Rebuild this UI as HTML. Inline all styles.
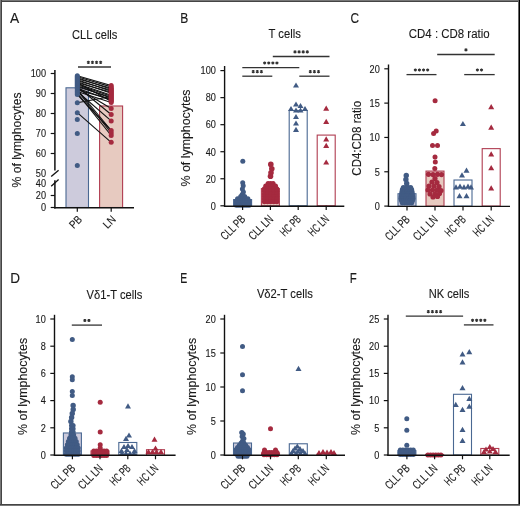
<!DOCTYPE html>
<html><head><meta charset="utf-8"><style>
html,body{margin:0;padding:0;background:#fff;width:520px;height:506px;overflow:hidden}
svg{display:block;will-change:transform}
text{font-family:"Liberation Sans", sans-serif;stroke:#1a1a1a;stroke-width:0.12px}
</style></head><body>
<svg width="520" height="506" viewBox="0 0 520 506">
<rect x="0" y="0" width="520" height="506" fill="#fff"/>
<text x="10.00" y="23.30" font-size="14.5" textLength="9.2" lengthAdjust="spacingAndGlyphs" stroke-width="0" fill="#1a1a1a">A</text>
<text x="72.00" y="38.90" font-size="12.5" textLength="45.4" lengthAdjust="spacingAndGlyphs" stroke-width="0.15" fill="#1a1a1a">CLL cells</text>
<text x="21.20" y="140.00" font-size="12" text-anchor="middle" textLength="95" lengthAdjust="spacingAndGlyphs" transform="rotate(-90 21.20 140.00)" fill="#1a1a1a">% of lymphocytes</text>
<rect x="66.00" y="87.80" width="22.50" height="119.70" fill="#cdcbdc" stroke="#4a6892" stroke-width="1.1"/>
<rect x="99.60" y="106.00" width="23.00" height="101.50" fill="#e7cac0" stroke="#b03c50" stroke-width="1.1"/>
<line x1="54.90" y1="70.00" x2="54.90" y2="170.60" stroke="#111" stroke-width="1.5"/>
<line x1="54.90" y1="180.20" x2="54.90" y2="208.60" stroke="#111" stroke-width="1.5"/>
<line x1="51.20" y1="176.60" x2="58.60" y2="170.20" stroke="#111" stroke-width="1.3"/>
<line x1="51.20" y1="186.20" x2="58.60" y2="179.60" stroke="#111" stroke-width="1.3"/>
<line x1="50.70" y1="73.50" x2="54.90" y2="73.50" stroke="#111" stroke-width="1.2"/>
<text x="46.00" y="77.30" font-size="10.6" text-anchor="end" textLength="15.299999999999999" lengthAdjust="spacingAndGlyphs" stroke-width="0.1" fill="#1a1a1a">100</text>
<line x1="50.70" y1="93.50" x2="54.90" y2="93.50" stroke="#111" stroke-width="1.2"/>
<text x="46.00" y="97.30" font-size="10.6" text-anchor="end" textLength="10.2" lengthAdjust="spacingAndGlyphs" stroke-width="0.1" fill="#1a1a1a">90</text>
<line x1="50.70" y1="113.50" x2="54.90" y2="113.50" stroke="#111" stroke-width="1.2"/>
<text x="46.00" y="117.30" font-size="10.6" text-anchor="end" textLength="10.2" lengthAdjust="spacingAndGlyphs" stroke-width="0.1" fill="#1a1a1a">80</text>
<line x1="50.70" y1="133.50" x2="54.90" y2="133.50" stroke="#111" stroke-width="1.2"/>
<text x="46.00" y="137.30" font-size="10.6" text-anchor="end" textLength="10.2" lengthAdjust="spacingAndGlyphs" stroke-width="0.1" fill="#1a1a1a">70</text>
<line x1="50.70" y1="153.50" x2="54.90" y2="153.50" stroke="#111" stroke-width="1.2"/>
<text x="46.00" y="157.30" font-size="10.6" text-anchor="end" textLength="10.2" lengthAdjust="spacingAndGlyphs" stroke-width="0.1" fill="#1a1a1a">60</text>
<text x="46.00" y="177.10" font-size="10.6" text-anchor="end" textLength="10.2" lengthAdjust="spacingAndGlyphs" stroke-width="0.1" fill="#1a1a1a">50</text>
<text x="46.00" y="187.10" font-size="10.6" text-anchor="end" textLength="10.2" lengthAdjust="spacingAndGlyphs" stroke-width="0.1" fill="#1a1a1a">40</text>
<line x1="50.70" y1="195.50" x2="54.90" y2="195.50" stroke="#111" stroke-width="1.2"/>
<text x="46.00" y="199.30" font-size="10.6" text-anchor="end" textLength="10.2" lengthAdjust="spacingAndGlyphs" stroke-width="0.1" fill="#1a1a1a">20</text>
<line x1="50.70" y1="207.50" x2="54.90" y2="207.50" stroke="#111" stroke-width="1.2"/>
<text x="46.00" y="211.30" font-size="10.6" text-anchor="end" textLength="5.1" lengthAdjust="spacingAndGlyphs" stroke-width="0.1" fill="#1a1a1a">0</text>
<line x1="54.15" y1="207.80" x2="134.00" y2="207.80" stroke="#111" stroke-width="1.5"/>
<line x1="77.30" y1="207.50" x2="77.30" y2="211.80" stroke="#111" stroke-width="1.2"/>
<text x="82.70" y="220.10" font-size="11.3" text-anchor="end" textLength="12.8" lengthAdjust="spacingAndGlyphs" transform="rotate(-45 82.70 220.10)" stroke-width="0.15" fill="#1a1a1a">PB</text>
<line x1="111.20" y1="207.50" x2="111.20" y2="211.80" stroke="#111" stroke-width="1.2"/>
<text x="116.60" y="220.10" font-size="11.3" text-anchor="end" textLength="12.8" lengthAdjust="spacingAndGlyphs" transform="rotate(-45 116.60 220.10)" stroke-width="0.15" fill="#1a1a1a">LN</text>
<line x1="78.00" y1="67.00" x2="111.00" y2="67.00" stroke="#333" stroke-width="1.3"/>
<path d="M88.35 60.80L88.35 64.00M86.96 61.60L89.74 63.20M89.74 61.60L86.96 63.20" stroke="#333" stroke-width="1.1"/>
<path d="M92.45 60.80L92.45 64.00M91.06 61.60L93.84 63.20M93.84 61.60L91.06 63.20" stroke="#333" stroke-width="1.1"/>
<path d="M96.55 60.80L96.55 64.00M95.16 61.60L97.94 63.20M97.94 61.60L95.16 63.20" stroke="#333" stroke-width="1.1"/>
<path d="M100.65 60.80L100.65 64.00M99.26 61.60L102.04 63.20M102.04 61.60L99.26 63.20" stroke="#333" stroke-width="1.1"/>
<line x1="77.30" y1="75.70" x2="111.20" y2="85.50" stroke="#111" stroke-width="1.1"/>
<line x1="77.30" y1="76.70" x2="111.20" y2="86.90" stroke="#111" stroke-width="1.1"/>
<line x1="77.30" y1="77.70" x2="111.20" y2="89.30" stroke="#111" stroke-width="1.1"/>
<line x1="77.30" y1="78.70" x2="111.20" y2="88.30" stroke="#111" stroke-width="1.1"/>
<line x1="77.30" y1="79.70" x2="111.20" y2="91.30" stroke="#111" stroke-width="1.1"/>
<line x1="77.30" y1="80.70" x2="111.20" y2="90.30" stroke="#111" stroke-width="1.1"/>
<line x1="77.30" y1="81.70" x2="111.20" y2="93.30" stroke="#111" stroke-width="1.1"/>
<line x1="77.30" y1="82.70" x2="111.20" y2="92.30" stroke="#111" stroke-width="1.1"/>
<line x1="77.30" y1="83.70" x2="111.20" y2="95.30" stroke="#111" stroke-width="1.1"/>
<line x1="77.30" y1="84.70" x2="111.20" y2="96.30" stroke="#111" stroke-width="1.1"/>
<line x1="77.30" y1="85.70" x2="111.20" y2="98.30" stroke="#111" stroke-width="1.1"/>
<line x1="77.30" y1="86.70" x2="111.20" y2="97.30" stroke="#111" stroke-width="1.1"/>
<line x1="77.30" y1="88.30" x2="111.20" y2="100.30" stroke="#111" stroke-width="1.1"/>
<line x1="77.30" y1="89.90" x2="111.20" y2="99.30" stroke="#111" stroke-width="1.1"/>
<line x1="77.30" y1="82.70" x2="111.20" y2="101.30" stroke="#111" stroke-width="1.1"/>
<line x1="77.30" y1="91.50" x2="111.20" y2="102.50" stroke="#111" stroke-width="1.1"/>
<line x1="77.30" y1="88.30" x2="111.20" y2="108.50" stroke="#111" stroke-width="1.1"/>
<line x1="77.30" y1="86.70" x2="111.20" y2="114.50" stroke="#111" stroke-width="1.1"/>
<line x1="77.30" y1="91.50" x2="111.20" y2="120.90" stroke="#111" stroke-width="1.1"/>
<line x1="77.30" y1="89.50" x2="111.20" y2="130.50" stroke="#111" stroke-width="1.1"/>
<line x1="77.30" y1="90.50" x2="111.20" y2="133.00" stroke="#111" stroke-width="1.1"/>
<line x1="77.30" y1="93.10" x2="111.20" y2="135.50" stroke="#111" stroke-width="1.1"/>
<line x1="77.30" y1="94.50" x2="111.20" y2="130.50" stroke="#111" stroke-width="1.1"/>
<line x1="77.30" y1="102.70" x2="111.20" y2="96.50" stroke="#111" stroke-width="1.1"/>
<line x1="77.30" y1="112.70" x2="111.20" y2="142.30" stroke="#111" stroke-width="1.1"/>
<circle cx="77.30" cy="75.70" r="2.5" fill="#415b84"/>
<circle cx="77.30" cy="76.70" r="2.5" fill="#415b84"/>
<circle cx="77.30" cy="77.70" r="2.5" fill="#415b84"/>
<circle cx="77.30" cy="78.70" r="2.5" fill="#415b84"/>
<circle cx="77.30" cy="79.70" r="2.5" fill="#415b84"/>
<circle cx="77.30" cy="80.70" r="2.5" fill="#415b84"/>
<circle cx="77.30" cy="81.70" r="2.5" fill="#415b84"/>
<circle cx="77.30" cy="82.70" r="2.5" fill="#415b84"/>
<circle cx="77.30" cy="83.70" r="2.5" fill="#415b84"/>
<circle cx="77.30" cy="84.70" r="2.5" fill="#415b84"/>
<circle cx="77.30" cy="85.70" r="2.5" fill="#415b84"/>
<circle cx="77.30" cy="86.70" r="2.5" fill="#415b84"/>
<circle cx="77.30" cy="88.30" r="2.5" fill="#415b84"/>
<circle cx="77.30" cy="89.90" r="2.5" fill="#415b84"/>
<circle cx="77.30" cy="91.50" r="2.5" fill="#415b84"/>
<circle cx="77.30" cy="93.10" r="2.5" fill="#415b84"/>
<circle cx="77.30" cy="94.50" r="2.5" fill="#415b84"/>
<circle cx="77.30" cy="102.70" r="2.5" fill="#415b84"/>
<circle cx="77.30" cy="112.70" r="2.5" fill="#415b84"/>
<circle cx="77.30" cy="119.50" r="2.5" fill="#415b84"/>
<circle cx="77.30" cy="133.50" r="2.5" fill="#415b84"/>
<circle cx="77.30" cy="165.50" r="2.5" fill="#415b84"/>
<circle cx="111.20" cy="85.50" r="2.5" fill="#a52a3f"/>
<circle cx="111.20" cy="86.90" r="2.5" fill="#a52a3f"/>
<circle cx="111.20" cy="88.30" r="2.5" fill="#a52a3f"/>
<circle cx="111.20" cy="89.30" r="2.5" fill="#a52a3f"/>
<circle cx="111.20" cy="90.30" r="2.5" fill="#a52a3f"/>
<circle cx="111.20" cy="91.30" r="2.5" fill="#a52a3f"/>
<circle cx="111.20" cy="92.30" r="2.5" fill="#a52a3f"/>
<circle cx="111.20" cy="93.30" r="2.5" fill="#a52a3f"/>
<circle cx="111.20" cy="94.30" r="2.5" fill="#a52a3f"/>
<circle cx="111.20" cy="95.30" r="2.5" fill="#a52a3f"/>
<circle cx="111.20" cy="96.30" r="2.5" fill="#a52a3f"/>
<circle cx="111.20" cy="97.30" r="2.5" fill="#a52a3f"/>
<circle cx="111.20" cy="98.30" r="2.5" fill="#a52a3f"/>
<circle cx="111.20" cy="99.30" r="2.5" fill="#a52a3f"/>
<circle cx="111.20" cy="100.30" r="2.5" fill="#a52a3f"/>
<circle cx="111.20" cy="101.30" r="2.5" fill="#a52a3f"/>
<circle cx="111.20" cy="102.50" r="2.5" fill="#a52a3f"/>
<circle cx="111.20" cy="108.50" r="2.5" fill="#a52a3f"/>
<circle cx="111.20" cy="114.50" r="2.5" fill="#a52a3f"/>
<circle cx="111.20" cy="120.90" r="2.5" fill="#a52a3f"/>
<circle cx="111.20" cy="130.50" r="2.5" fill="#a52a3f"/>
<circle cx="111.20" cy="133.00" r="2.5" fill="#a52a3f"/>
<circle cx="111.20" cy="135.50" r="2.5" fill="#a52a3f"/>
<circle cx="111.20" cy="142.30" r="2.5" fill="#a52a3f"/>
<text x="180.20" y="23.10" font-size="14.5" textLength="8.0" lengthAdjust="spacingAndGlyphs" stroke-width="0" fill="#1a1a1a">B</text>
<text x="268.50" y="38.10" font-size="12.5" textLength="32.3" lengthAdjust="spacingAndGlyphs" stroke-width="0.15" fill="#1a1a1a">T cells</text>
<text x="189.50" y="138.00" font-size="12" text-anchor="middle" textLength="97" lengthAdjust="spacingAndGlyphs" transform="rotate(-90 189.50 138.00)" fill="#1a1a1a">% of lymphocytes</text>
<rect x="233.60" y="199.58" width="18.00" height="6.22" fill="#cdcbdc" stroke="#4a6892" stroke-width="1.1"/>
<rect x="261.40" y="188.63" width="18.00" height="17.17" fill="#e7cac0" stroke="#b03c50" stroke-width="1.1"/>
<rect x="289.20" y="110.48" width="18.00" height="95.32" fill="#fff" stroke="#4a6892" stroke-width="1.1"/>
<rect x="317.20" y="135.09" width="18.00" height="70.71" fill="#fff" stroke="#b03c50" stroke-width="1.1"/>
<circle cx="242.80" cy="161.20" r="2.5" fill="#415b84"/>
<circle cx="242.70" cy="182.80" r="2.5" fill="#415b84"/>
<circle cx="243.20" cy="185.80" r="2.5" fill="#415b84"/>
<circle cx="242.40" cy="189.00" r="2.5" fill="#415b84"/>
<circle cx="243.40" cy="192.00" r="2.5" fill="#415b84"/>
<circle cx="242.20" cy="194.50" r="2.5" fill="#415b84"/>
<circle cx="240.70" cy="196.50" r="2.5" fill="#415b84"/>
<circle cx="242.70" cy="196.50" r="2.5" fill="#415b84"/>
<circle cx="244.70" cy="196.50" r="2.5" fill="#415b84"/>
<circle cx="237.55" cy="198.70" r="2.5" fill="#415b84"/>
<circle cx="240.12" cy="198.70" r="2.5" fill="#415b84"/>
<circle cx="242.70" cy="198.70" r="2.5" fill="#415b84"/>
<circle cx="245.28" cy="198.70" r="2.5" fill="#415b84"/>
<circle cx="247.85" cy="198.70" r="2.5" fill="#415b84"/>
<circle cx="236.40" cy="200.90" r="2.5" fill="#415b84"/>
<circle cx="238.92" cy="200.90" r="2.5" fill="#415b84"/>
<circle cx="241.44" cy="200.90" r="2.5" fill="#415b84"/>
<circle cx="243.96" cy="200.90" r="2.5" fill="#415b84"/>
<circle cx="246.48" cy="200.90" r="2.5" fill="#415b84"/>
<circle cx="249.00" cy="200.90" r="2.5" fill="#415b84"/>
<circle cx="236.40" cy="203.10" r="2.5" fill="#415b84"/>
<circle cx="238.92" cy="203.10" r="2.5" fill="#415b84"/>
<circle cx="241.44" cy="203.10" r="2.5" fill="#415b84"/>
<circle cx="243.96" cy="203.10" r="2.5" fill="#415b84"/>
<circle cx="246.48" cy="203.10" r="2.5" fill="#415b84"/>
<circle cx="249.00" cy="203.10" r="2.5" fill="#415b84"/>
<circle cx="236.40" cy="205.30" r="2.5" fill="#415b84"/>
<circle cx="238.92" cy="205.30" r="2.5" fill="#415b84"/>
<circle cx="241.44" cy="205.30" r="2.5" fill="#415b84"/>
<circle cx="243.96" cy="205.30" r="2.5" fill="#415b84"/>
<circle cx="246.48" cy="205.30" r="2.5" fill="#415b84"/>
<circle cx="249.00" cy="205.30" r="2.5" fill="#415b84"/>
<circle cx="270.80" cy="164.40" r="2.8" fill="#a52a3f"/>
<circle cx="271.80" cy="168.80" r="2.8" fill="#a52a3f"/>
<circle cx="271.00" cy="172.80" r="2.8" fill="#a52a3f"/>
<circle cx="270.50" cy="176.20" r="2.8" fill="#a52a3f"/>
<circle cx="268.10" cy="183.50" r="2.5" fill="#a52a3f"/>
<circle cx="270.60" cy="183.50" r="2.5" fill="#a52a3f"/>
<circle cx="273.10" cy="183.50" r="2.5" fill="#a52a3f"/>
<circle cx="265.70" cy="186.10" r="2.5" fill="#a52a3f"/>
<circle cx="268.15" cy="186.10" r="2.5" fill="#a52a3f"/>
<circle cx="270.60" cy="186.10" r="2.5" fill="#a52a3f"/>
<circle cx="273.05" cy="186.10" r="2.5" fill="#a52a3f"/>
<circle cx="275.51" cy="186.10" r="2.5" fill="#a52a3f"/>
<circle cx="264.40" cy="188.70" r="2.5" fill="#a52a3f"/>
<circle cx="267.50" cy="188.70" r="2.5" fill="#a52a3f"/>
<circle cx="270.60" cy="188.70" r="2.5" fill="#a52a3f"/>
<circle cx="273.70" cy="188.70" r="2.5" fill="#a52a3f"/>
<circle cx="276.80" cy="188.70" r="2.5" fill="#a52a3f"/>
<circle cx="264.40" cy="191.30" r="2.5" fill="#a52a3f"/>
<circle cx="267.50" cy="191.30" r="2.5" fill="#a52a3f"/>
<circle cx="270.60" cy="191.30" r="2.5" fill="#a52a3f"/>
<circle cx="273.70" cy="191.30" r="2.5" fill="#a52a3f"/>
<circle cx="276.80" cy="191.30" r="2.5" fill="#a52a3f"/>
<circle cx="264.40" cy="193.90" r="2.5" fill="#a52a3f"/>
<circle cx="267.50" cy="193.90" r="2.5" fill="#a52a3f"/>
<circle cx="270.60" cy="193.90" r="2.5" fill="#a52a3f"/>
<circle cx="273.70" cy="193.90" r="2.5" fill="#a52a3f"/>
<circle cx="276.80" cy="193.90" r="2.5" fill="#a52a3f"/>
<circle cx="264.40" cy="196.50" r="2.5" fill="#a52a3f"/>
<circle cx="267.50" cy="196.50" r="2.5" fill="#a52a3f"/>
<circle cx="270.60" cy="196.50" r="2.5" fill="#a52a3f"/>
<circle cx="273.70" cy="196.50" r="2.5" fill="#a52a3f"/>
<circle cx="276.80" cy="196.50" r="2.5" fill="#a52a3f"/>
<circle cx="264.40" cy="199.10" r="2.5" fill="#a52a3f"/>
<circle cx="267.50" cy="199.10" r="2.5" fill="#a52a3f"/>
<circle cx="270.60" cy="199.10" r="2.5" fill="#a52a3f"/>
<circle cx="273.70" cy="199.10" r="2.5" fill="#a52a3f"/>
<circle cx="276.80" cy="199.10" r="2.5" fill="#a52a3f"/>
<circle cx="264.40" cy="201.70" r="2.5" fill="#a52a3f"/>
<circle cx="267.50" cy="201.70" r="2.5" fill="#a52a3f"/>
<circle cx="270.60" cy="201.70" r="2.5" fill="#a52a3f"/>
<circle cx="273.70" cy="201.70" r="2.5" fill="#a52a3f"/>
<circle cx="276.80" cy="201.70" r="2.5" fill="#a52a3f"/>
<path d="M293.00 87.61L299.00 87.61L296.00 82.39Z" fill="#415b84"/>
<path d="M293.00 106.61L299.00 106.61L296.00 101.39Z" fill="#415b84"/>
<path d="M297.50 108.11L303.50 108.11L300.50 102.89Z" fill="#415b84"/>
<path d="M302.00 111.11L308.00 111.11L305.00 105.89Z" fill="#415b84"/>
<path d="M288.00 111.11L294.00 111.11L291.00 105.89Z" fill="#415b84"/>
<path d="M293.00 112.61L299.00 112.61L296.00 107.39Z" fill="#415b84"/>
<path d="M297.50 112.61L303.50 112.61L300.50 107.39Z" fill="#415b84"/>
<path d="M293.00 119.11L299.00 119.11L296.00 113.89Z" fill="#415b84"/>
<path d="M293.00 125.61L299.00 125.61L296.00 120.39Z" fill="#415b84"/>
<path d="M293.00 131.91L299.00 131.91L296.00 126.69Z" fill="#415b84"/>
<path d="M323.20 110.66L329.20 110.66L326.20 105.44Z" fill="#a52a3f"/>
<path d="M323.20 123.91L329.20 123.91L326.20 118.69Z" fill="#a52a3f"/>
<path d="M323.20 141.49L329.20 141.49L326.20 136.27Z" fill="#a52a3f"/>
<path d="M323.20 147.98L329.20 147.98L326.20 142.76Z" fill="#a52a3f"/>
<path d="M323.20 164.61L329.20 164.61L326.20 159.39Z" fill="#a52a3f"/>
<line x1="224.60" y1="66.00" x2="224.60" y2="206.45" stroke="#111" stroke-width="1.4"/>
<line x1="220.40" y1="205.80" x2="224.60" y2="205.80" stroke="#111" stroke-width="1.2"/>
<text x="215.90" y="209.60" font-size="10.6" text-anchor="end" textLength="5.1" lengthAdjust="spacingAndGlyphs" stroke-width="0.1" fill="#1a1a1a">0</text>
<line x1="220.40" y1="178.76" x2="224.60" y2="178.76" stroke="#111" stroke-width="1.2"/>
<text x="215.90" y="182.56" font-size="10.6" text-anchor="end" textLength="10.2" lengthAdjust="spacingAndGlyphs" stroke-width="0.1" fill="#1a1a1a">20</text>
<line x1="220.40" y1="151.72" x2="224.60" y2="151.72" stroke="#111" stroke-width="1.2"/>
<text x="215.90" y="155.52" font-size="10.6" text-anchor="end" textLength="10.2" lengthAdjust="spacingAndGlyphs" stroke-width="0.1" fill="#1a1a1a">40</text>
<line x1="220.40" y1="124.68" x2="224.60" y2="124.68" stroke="#111" stroke-width="1.2"/>
<text x="215.90" y="128.48" font-size="10.6" text-anchor="end" textLength="10.2" lengthAdjust="spacingAndGlyphs" stroke-width="0.1" fill="#1a1a1a">60</text>
<line x1="220.40" y1="97.64" x2="224.60" y2="97.64" stroke="#111" stroke-width="1.2"/>
<text x="215.90" y="101.44" font-size="10.6" text-anchor="end" textLength="10.2" lengthAdjust="spacingAndGlyphs" stroke-width="0.1" fill="#1a1a1a">80</text>
<line x1="220.40" y1="70.60" x2="224.60" y2="70.60" stroke="#111" stroke-width="1.2"/>
<text x="215.90" y="74.40" font-size="10.6" text-anchor="end" textLength="15.299999999999999" lengthAdjust="spacingAndGlyphs" stroke-width="0.1" fill="#1a1a1a">100</text>
<line x1="223.90" y1="206.30" x2="344.30" y2="206.30" stroke="#111" stroke-width="1.4"/>
<line x1="242.60" y1="205.80" x2="242.60" y2="210.10" stroke="#111" stroke-width="1.2"/>
<text x="246.20" y="220.00" font-size="12" text-anchor="end" textLength="29.5" lengthAdjust="spacingAndGlyphs" transform="rotate(-45 246.20 220.00)" stroke-width="0.2" fill="#1a1a1a">CLL PB</text>
<line x1="270.40" y1="205.80" x2="270.40" y2="210.10" stroke="#111" stroke-width="1.2"/>
<text x="274.00" y="220.00" font-size="12" text-anchor="end" textLength="29.5" lengthAdjust="spacingAndGlyphs" transform="rotate(-45 274.00 220.00)" stroke-width="0.2" fill="#1a1a1a">CLL LN</text>
<line x1="298.20" y1="205.80" x2="298.20" y2="210.10" stroke="#111" stroke-width="1.2"/>
<text x="301.80" y="220.00" font-size="12" text-anchor="end" textLength="24" lengthAdjust="spacingAndGlyphs" transform="rotate(-45 301.80 220.00)" stroke-width="0.2" fill="#1a1a1a">HC PB</text>
<line x1="326.20" y1="205.80" x2="326.20" y2="210.10" stroke="#111" stroke-width="1.2"/>
<text x="329.80" y="220.00" font-size="12" text-anchor="end" textLength="24" lengthAdjust="spacingAndGlyphs" transform="rotate(-45 329.80 220.00)" stroke-width="0.2" fill="#1a1a1a">HC LN</text>
<line x1="272.80" y1="56.50" x2="329.50" y2="56.50" stroke="#333" stroke-width="1.3"/>
<path d="M295.00 50.30L295.00 53.50M293.61 51.10L296.39 52.70M296.39 51.10L293.61 52.70" stroke="#333" stroke-width="1.1"/>
<path d="M299.10 50.30L299.10 53.50M297.71 51.10L300.49 52.70M300.49 51.10L297.71 52.70" stroke="#333" stroke-width="1.1"/>
<path d="M303.20 50.30L303.20 53.50M301.81 51.10L304.59 52.70M304.59 51.10L301.81 52.70" stroke="#333" stroke-width="1.1"/>
<path d="M307.30 50.30L307.30 53.50M305.91 51.10L308.69 52.70M308.69 51.10L305.91 52.70" stroke="#333" stroke-width="1.1"/>
<line x1="242.30" y1="67.60" x2="299.30" y2="67.60" stroke="#333" stroke-width="1.3"/>
<path d="M264.65 61.40L264.65 64.60M263.26 62.20L266.04 63.80M266.04 62.20L263.26 63.80" stroke="#333" stroke-width="1.1"/>
<path d="M268.75 61.40L268.75 64.60M267.36 62.20L270.14 63.80M270.14 62.20L267.36 63.80" stroke="#333" stroke-width="1.1"/>
<path d="M272.85 61.40L272.85 64.60M271.46 62.20L274.24 63.80M274.24 62.20L271.46 63.80" stroke="#333" stroke-width="1.1"/>
<path d="M276.95 61.40L276.95 64.60M275.56 62.20L278.34 63.80M278.34 62.20L275.56 63.80" stroke="#333" stroke-width="1.1"/>
<line x1="242.30" y1="76.20" x2="272.30" y2="76.20" stroke="#333" stroke-width="1.3"/>
<path d="M253.20 70.00L253.20 73.20M251.81 70.80L254.59 72.40M254.59 70.80L251.81 72.40" stroke="#333" stroke-width="1.1"/>
<path d="M257.30 70.00L257.30 73.20M255.91 70.80L258.69 72.40M258.69 70.80L255.91 72.40" stroke="#333" stroke-width="1.1"/>
<path d="M261.40 70.00L261.40 73.20M260.01 70.80L262.79 72.40M262.79 70.80L260.01 72.40" stroke="#333" stroke-width="1.1"/>
<line x1="299.30" y1="76.20" x2="329.50" y2="76.20" stroke="#333" stroke-width="1.3"/>
<path d="M310.30 70.00L310.30 73.20M308.91 70.80L311.69 72.40M311.69 70.80L308.91 72.40" stroke="#333" stroke-width="1.1"/>
<path d="M314.40 70.00L314.40 73.20M313.01 70.80L315.79 72.40M315.79 70.80L313.01 72.40" stroke="#333" stroke-width="1.1"/>
<path d="M318.50 70.00L318.50 73.20M317.11 70.80L319.89 72.40M319.89 70.80L317.11 72.40" stroke="#333" stroke-width="1.1"/>
<text x="350.50" y="23.10" font-size="14.5" textLength="8.6" lengthAdjust="spacingAndGlyphs" stroke-width="0" fill="#1a1a1a">C</text>
<text x="408.80" y="38.20" font-size="12.5" textLength="80.8" lengthAdjust="spacingAndGlyphs" stroke-width="0.15" fill="#1a1a1a">CD4 : CD8 ratio</text>
<text x="360.70" y="138.30" font-size="12" text-anchor="middle" textLength="74.7" lengthAdjust="spacingAndGlyphs" transform="rotate(-90 360.70 138.30)" fill="#1a1a1a">CD4:CD8 ratio</text>
<rect x="398.00" y="193.74" width="18.00" height="12.36" fill="#cdcbdc" stroke="#4a6892" stroke-width="1.1"/>
<rect x="426.00" y="171.09" width="18.00" height="35.01" fill="#e7cac0" stroke="#b03c50" stroke-width="1.1"/>
<rect x="454.00" y="180.01" width="18.00" height="26.09" fill="#fff" stroke="#4a6892" stroke-width="1.1"/>
<rect x="482.20" y="148.64" width="18.00" height="57.46" fill="#fff" stroke="#b03c50" stroke-width="1.1"/>
<circle cx="406.26" cy="175.40" r="2.7" fill="#415b84"/>
<circle cx="405.89" cy="179.40" r="2.7" fill="#415b84"/>
<circle cx="406.71" cy="183.40" r="2.7" fill="#415b84"/>
<circle cx="403.31" cy="187.40" r="2.5" fill="#415b84"/>
<circle cx="405.77" cy="187.40" r="2.5" fill="#415b84"/>
<circle cx="408.23" cy="187.40" r="2.5" fill="#415b84"/>
<circle cx="410.69" cy="187.40" r="2.5" fill="#415b84"/>
<circle cx="402.37" cy="189.60" r="2.5" fill="#415b84"/>
<circle cx="404.69" cy="189.60" r="2.5" fill="#415b84"/>
<circle cx="407.00" cy="189.60" r="2.5" fill="#415b84"/>
<circle cx="409.31" cy="189.60" r="2.5" fill="#415b84"/>
<circle cx="411.63" cy="189.60" r="2.5" fill="#415b84"/>
<circle cx="401.91" cy="191.80" r="2.5" fill="#415b84"/>
<circle cx="404.46" cy="191.80" r="2.5" fill="#415b84"/>
<circle cx="407.00" cy="191.80" r="2.5" fill="#415b84"/>
<circle cx="409.54" cy="191.80" r="2.5" fill="#415b84"/>
<circle cx="412.09" cy="191.80" r="2.5" fill="#415b84"/>
<circle cx="401.56" cy="194.00" r="2.5" fill="#415b84"/>
<circle cx="403.74" cy="194.00" r="2.5" fill="#415b84"/>
<circle cx="405.91" cy="194.00" r="2.5" fill="#415b84"/>
<circle cx="408.09" cy="194.00" r="2.5" fill="#415b84"/>
<circle cx="410.26" cy="194.00" r="2.5" fill="#415b84"/>
<circle cx="412.44" cy="194.00" r="2.5" fill="#415b84"/>
<circle cx="401.22" cy="196.20" r="2.5" fill="#415b84"/>
<circle cx="403.53" cy="196.20" r="2.5" fill="#415b84"/>
<circle cx="405.84" cy="196.20" r="2.5" fill="#415b84"/>
<circle cx="408.16" cy="196.20" r="2.5" fill="#415b84"/>
<circle cx="410.47" cy="196.20" r="2.5" fill="#415b84"/>
<circle cx="412.78" cy="196.20" r="2.5" fill="#415b84"/>
<circle cx="400.89" cy="198.40" r="2.5" fill="#415b84"/>
<circle cx="403.33" cy="198.40" r="2.5" fill="#415b84"/>
<circle cx="405.78" cy="198.40" r="2.5" fill="#415b84"/>
<circle cx="408.22" cy="198.40" r="2.5" fill="#415b84"/>
<circle cx="410.67" cy="198.40" r="2.5" fill="#415b84"/>
<circle cx="413.11" cy="198.40" r="2.5" fill="#415b84"/>
<circle cx="401.40" cy="200.60" r="2.5" fill="#415b84"/>
<circle cx="403.64" cy="200.60" r="2.5" fill="#415b84"/>
<circle cx="405.88" cy="200.60" r="2.5" fill="#415b84"/>
<circle cx="408.12" cy="200.60" r="2.5" fill="#415b84"/>
<circle cx="410.36" cy="200.60" r="2.5" fill="#415b84"/>
<circle cx="412.60" cy="200.60" r="2.5" fill="#415b84"/>
<circle cx="402.24" cy="202.80" r="2.5" fill="#415b84"/>
<circle cx="404.62" cy="202.80" r="2.5" fill="#415b84"/>
<circle cx="407.00" cy="202.80" r="2.5" fill="#415b84"/>
<circle cx="409.38" cy="202.80" r="2.5" fill="#415b84"/>
<circle cx="411.76" cy="202.80" r="2.5" fill="#415b84"/>
<circle cx="435.10" cy="100.70" r="2.5" fill="#a52a3f"/>
<circle cx="433.60" cy="133.60" r="2.5" fill="#a52a3f"/>
<circle cx="436.20" cy="131.00" r="2.5" fill="#a52a3f"/>
<circle cx="432.50" cy="145.40" r="2.5" fill="#a52a3f"/>
<circle cx="437.50" cy="145.40" r="2.5" fill="#a52a3f"/>
<circle cx="435.00" cy="157.10" r="2.5" fill="#a52a3f"/>
<circle cx="435.30" cy="161.90" r="2.5" fill="#a52a3f"/>
<circle cx="434.80" cy="168.40" r="2.5" fill="#a52a3f"/>
<circle cx="428.50" cy="174.30" r="2.6" fill="#a52a3f"/>
<circle cx="433.00" cy="174.60" r="2.6" fill="#a52a3f"/>
<circle cx="437.50" cy="174.30" r="2.6" fill="#a52a3f"/>
<circle cx="441.50" cy="174.60" r="2.6" fill="#a52a3f"/>
<circle cx="435.00" cy="178.50" r="2.6" fill="#a52a3f"/>
<circle cx="432.00" cy="182.00" r="2.6" fill="#a52a3f"/>
<circle cx="437.00" cy="182.50" r="2.6" fill="#a52a3f"/>
<circle cx="429.00" cy="186.00" r="2.6" fill="#a52a3f"/>
<circle cx="434.00" cy="186.00" r="2.6" fill="#a52a3f"/>
<circle cx="439.00" cy="186.50" r="2.6" fill="#a52a3f"/>
<circle cx="428.00" cy="190.00" r="2.6" fill="#a52a3f"/>
<circle cx="432.50" cy="190.00" r="2.6" fill="#a52a3f"/>
<circle cx="437.00" cy="190.00" r="2.6" fill="#a52a3f"/>
<circle cx="441.00" cy="190.50" r="2.6" fill="#a52a3f"/>
<circle cx="430.00" cy="194.00" r="2.6" fill="#a52a3f"/>
<circle cx="435.00" cy="194.00" r="2.6" fill="#a52a3f"/>
<circle cx="439.50" cy="193.50" r="2.6" fill="#a52a3f"/>
<circle cx="433.00" cy="197.00" r="2.6" fill="#a52a3f"/>
<circle cx="437.50" cy="196.50" r="2.6" fill="#a52a3f"/>
<path d="M459.90 126.11L465.90 126.11L462.90 120.89Z" fill="#415b84"/>
<path d="M463.50 172.81L469.50 172.81L466.50 167.59Z" fill="#415b84"/>
<path d="M459.00 177.51L465.00 177.51L462.00 172.29Z" fill="#415b84"/>
<path d="M453.00 189.41L459.00 189.41L456.00 184.19Z" fill="#415b84"/>
<path d="M457.00 188.81L463.00 188.81L460.00 183.59Z" fill="#415b84"/>
<path d="M461.00 189.41L467.00 189.41L464.00 184.19Z" fill="#415b84"/>
<path d="M465.00 188.81L471.00 188.81L468.00 183.59Z" fill="#415b84"/>
<path d="M468.00 189.41L474.00 189.41L471.00 184.19Z" fill="#415b84"/>
<path d="M456.50 198.31L462.50 198.31L459.50 193.09Z" fill="#415b84"/>
<path d="M463.50 198.31L469.50 198.31L466.50 193.09Z" fill="#415b84"/>
<path d="M488.20 109.17L494.20 109.17L491.20 103.95Z" fill="#a52a3f"/>
<path d="M488.20 129.76L494.20 129.76L491.20 124.54Z" fill="#a52a3f"/>
<path d="M488.20 156.54L494.20 156.54L491.20 151.32Z" fill="#a52a3f"/>
<path d="M488.20 170.27L494.20 170.27L491.20 165.05Z" fill="#a52a3f"/>
<path d="M488.20 190.52L494.20 190.52L491.20 185.30Z" fill="#a52a3f"/>
<line x1="388.50" y1="64.50" x2="388.50" y2="206.75" stroke="#111" stroke-width="1.4"/>
<line x1="384.30" y1="206.10" x2="388.50" y2="206.10" stroke="#111" stroke-width="1.2"/>
<text x="379.80" y="209.90" font-size="10.6" text-anchor="end" textLength="5.1" lengthAdjust="spacingAndGlyphs" stroke-width="0.1" fill="#1a1a1a">0</text>
<line x1="384.30" y1="171.77" x2="388.50" y2="171.77" stroke="#111" stroke-width="1.2"/>
<text x="379.80" y="175.57" font-size="10.6" text-anchor="end" textLength="5.1" lengthAdjust="spacingAndGlyphs" stroke-width="0.1" fill="#1a1a1a">5</text>
<line x1="384.30" y1="137.45" x2="388.50" y2="137.45" stroke="#111" stroke-width="1.2"/>
<text x="379.80" y="141.25" font-size="10.6" text-anchor="end" textLength="10.2" lengthAdjust="spacingAndGlyphs" stroke-width="0.1" fill="#1a1a1a">10</text>
<line x1="384.30" y1="103.12" x2="388.50" y2="103.12" stroke="#111" stroke-width="1.2"/>
<text x="379.80" y="106.92" font-size="10.6" text-anchor="end" textLength="10.2" lengthAdjust="spacingAndGlyphs" stroke-width="0.1" fill="#1a1a1a">15</text>
<line x1="384.30" y1="68.80" x2="388.50" y2="68.80" stroke="#111" stroke-width="1.2"/>
<text x="379.80" y="72.60" font-size="10.6" text-anchor="end" textLength="10.2" lengthAdjust="spacingAndGlyphs" stroke-width="0.1" fill="#1a1a1a">20</text>
<line x1="387.80" y1="206.40" x2="510.00" y2="206.40" stroke="#111" stroke-width="1.4"/>
<line x1="407.00" y1="206.10" x2="407.00" y2="210.40" stroke="#111" stroke-width="1.2"/>
<text x="410.60" y="220.30" font-size="12" text-anchor="end" textLength="29.5" lengthAdjust="spacingAndGlyphs" transform="rotate(-45 410.60 220.30)" stroke-width="0.2" fill="#1a1a1a">CLL PB</text>
<line x1="435.00" y1="206.10" x2="435.00" y2="210.40" stroke="#111" stroke-width="1.2"/>
<text x="438.60" y="220.30" font-size="12" text-anchor="end" textLength="29.5" lengthAdjust="spacingAndGlyphs" transform="rotate(-45 438.60 220.30)" stroke-width="0.2" fill="#1a1a1a">CLL LN</text>
<line x1="463.00" y1="206.10" x2="463.00" y2="210.40" stroke="#111" stroke-width="1.2"/>
<text x="466.60" y="220.30" font-size="12" text-anchor="end" textLength="24" lengthAdjust="spacingAndGlyphs" transform="rotate(-45 466.60 220.30)" stroke-width="0.2" fill="#1a1a1a">HC PB</text>
<line x1="491.20" y1="206.10" x2="491.20" y2="210.40" stroke="#111" stroke-width="1.2"/>
<text x="494.80" y="220.30" font-size="12" text-anchor="end" textLength="24" lengthAdjust="spacingAndGlyphs" transform="rotate(-45 494.80 220.30)" stroke-width="0.2" fill="#1a1a1a">HC LN</text>
<line x1="437.20" y1="54.50" x2="494.70" y2="54.50" stroke="#333" stroke-width="1.3"/>
<path d="M465.95 48.30L465.95 51.50M464.56 49.10L467.34 50.70M467.34 49.10L464.56 50.70" stroke="#333" stroke-width="1.1"/>
<line x1="406.50" y1="74.60" x2="436.50" y2="74.60" stroke="#333" stroke-width="1.3"/>
<path d="M415.35 68.40L415.35 71.60M413.96 69.20L416.74 70.80M416.74 69.20L413.96 70.80" stroke="#333" stroke-width="1.1"/>
<path d="M419.45 68.40L419.45 71.60M418.06 69.20L420.84 70.80M420.84 69.20L418.06 70.80" stroke="#333" stroke-width="1.1"/>
<path d="M423.55 68.40L423.55 71.60M422.16 69.20L424.94 70.80M424.94 69.20L422.16 70.80" stroke="#333" stroke-width="1.1"/>
<path d="M427.65 68.40L427.65 71.60M426.26 69.20L429.04 70.80M429.04 69.20L426.26 70.80" stroke="#333" stroke-width="1.1"/>
<line x1="464.20" y1="74.60" x2="494.70" y2="74.60" stroke="#333" stroke-width="1.3"/>
<path d="M477.40 68.40L477.40 71.60M476.01 69.20L478.79 70.80M478.79 69.20L476.01 70.80" stroke="#333" stroke-width="1.1"/>
<path d="M481.50 68.40L481.50 71.60M480.11 69.20L482.89 70.80M482.89 69.20L480.11 70.80" stroke="#333" stroke-width="1.1"/>
<text x="10.30" y="282.90" font-size="14.5" textLength="9.8" lengthAdjust="spacingAndGlyphs" stroke-width="0" fill="#1a1a1a">D</text>
<text x="86.60" y="298.50" font-size="12.5" textLength="55.7" lengthAdjust="spacingAndGlyphs" stroke-width="0.15" fill="#1a1a1a">V&#948;1-T cells</text>
<text x="26.80" y="386.40" font-size="12" text-anchor="middle" textLength="97" lengthAdjust="spacingAndGlyphs" transform="rotate(-90 26.80 386.40)" fill="#1a1a1a">% of lymphocytes</text>
<rect x="63.40" y="432.97" width="18.00" height="22.03" fill="#cdcbdc" stroke="#4a6892" stroke-width="1.1"/>
<rect x="91.00" y="450.92" width="18.00" height="4.08" fill="#e7cac0" stroke="#b03c50" stroke-width="1.1"/>
<rect x="118.80" y="442.49" width="18.00" height="12.51" fill="#fff" stroke="#4a6892" stroke-width="1.1"/>
<rect x="146.50" y="449.70" width="18.00" height="5.30" fill="#fff" stroke="#b03c50" stroke-width="1.1"/>
<circle cx="72.30" cy="339.40" r="2.5" fill="#415b84"/>
<circle cx="72.30" cy="376.80" r="2.5" fill="#415b84"/>
<circle cx="72.30" cy="379.80" r="2.5" fill="#415b84"/>
<circle cx="72.30" cy="391.60" r="2.5" fill="#415b84"/>
<circle cx="72.30" cy="395.60" r="2.5" fill="#415b84"/>
<circle cx="73.12" cy="405.50" r="2.7" fill="#415b84"/>
<circle cx="73.20" cy="409.50" r="2.7" fill="#415b84"/>
<circle cx="72.26" cy="413.50" r="2.7" fill="#415b84"/>
<circle cx="71.63" cy="417.50" r="2.7" fill="#415b84"/>
<circle cx="70.90" cy="421.50" r="2.7" fill="#415b84"/>
<circle cx="71.49" cy="425.50" r="2.5" fill="#415b84"/>
<circle cx="73.11" cy="425.50" r="2.5" fill="#415b84"/>
<circle cx="71.46" cy="428.70" r="2.5" fill="#415b84"/>
<circle cx="73.14" cy="428.70" r="2.5" fill="#415b84"/>
<circle cx="71.42" cy="431.90" r="2.5" fill="#415b84"/>
<circle cx="73.18" cy="431.90" r="2.5" fill="#415b84"/>
<circle cx="70.92" cy="435.10" r="2.5" fill="#415b84"/>
<circle cx="72.30" cy="435.10" r="2.5" fill="#415b84"/>
<circle cx="73.68" cy="435.10" r="2.5" fill="#415b84"/>
<circle cx="69.54" cy="438.30" r="2.5" fill="#415b84"/>
<circle cx="71.38" cy="438.30" r="2.5" fill="#415b84"/>
<circle cx="73.22" cy="438.30" r="2.5" fill="#415b84"/>
<circle cx="75.06" cy="438.30" r="2.5" fill="#415b84"/>
<circle cx="68.33" cy="441.50" r="2.5" fill="#415b84"/>
<circle cx="70.32" cy="441.50" r="2.5" fill="#415b84"/>
<circle cx="72.30" cy="441.50" r="2.5" fill="#415b84"/>
<circle cx="74.28" cy="441.50" r="2.5" fill="#415b84"/>
<circle cx="76.27" cy="441.50" r="2.5" fill="#415b84"/>
<circle cx="67.33" cy="444.70" r="2.5" fill="#415b84"/>
<circle cx="69.82" cy="444.70" r="2.5" fill="#415b84"/>
<circle cx="72.30" cy="444.70" r="2.5" fill="#415b84"/>
<circle cx="74.78" cy="444.70" r="2.5" fill="#415b84"/>
<circle cx="77.27" cy="444.70" r="2.5" fill="#415b84"/>
<circle cx="66.33" cy="447.90" r="2.5" fill="#415b84"/>
<circle cx="68.72" cy="447.90" r="2.5" fill="#415b84"/>
<circle cx="71.11" cy="447.90" r="2.5" fill="#415b84"/>
<circle cx="73.49" cy="447.90" r="2.5" fill="#415b84"/>
<circle cx="75.88" cy="447.90" r="2.5" fill="#415b84"/>
<circle cx="78.27" cy="447.90" r="2.5" fill="#415b84"/>
<circle cx="66.30" cy="451.10" r="2.5" fill="#415b84"/>
<circle cx="68.70" cy="451.10" r="2.5" fill="#415b84"/>
<circle cx="71.10" cy="451.10" r="2.5" fill="#415b84"/>
<circle cx="73.50" cy="451.10" r="2.5" fill="#415b84"/>
<circle cx="75.90" cy="451.10" r="2.5" fill="#415b84"/>
<circle cx="78.30" cy="451.10" r="2.5" fill="#415b84"/>
<circle cx="66.30" cy="454.30" r="2.5" fill="#415b84"/>
<circle cx="68.70" cy="454.30" r="2.5" fill="#415b84"/>
<circle cx="71.10" cy="454.30" r="2.5" fill="#415b84"/>
<circle cx="73.50" cy="454.30" r="2.5" fill="#415b84"/>
<circle cx="75.90" cy="454.30" r="2.5" fill="#415b84"/>
<circle cx="78.30" cy="454.30" r="2.5" fill="#415b84"/>
<circle cx="100.20" cy="402.30" r="2.5" fill="#a52a3f"/>
<circle cx="100.20" cy="432.10" r="2.5" fill="#a52a3f"/>
<circle cx="100.20" cy="444.70" r="2.5" fill="#a52a3f"/>
<circle cx="100.20" cy="448.00" r="2.5" fill="#a52a3f"/>
<circle cx="93.80" cy="451.00" r="2.5" fill="#a52a3f"/>
<circle cx="96.36" cy="451.00" r="2.5" fill="#a52a3f"/>
<circle cx="98.92" cy="451.00" r="2.5" fill="#a52a3f"/>
<circle cx="101.48" cy="451.00" r="2.5" fill="#a52a3f"/>
<circle cx="104.04" cy="451.00" r="2.5" fill="#a52a3f"/>
<circle cx="106.60" cy="451.00" r="2.5" fill="#a52a3f"/>
<circle cx="93.80" cy="453.20" r="2.5" fill="#a52a3f"/>
<circle cx="96.36" cy="453.20" r="2.5" fill="#a52a3f"/>
<circle cx="98.92" cy="453.20" r="2.5" fill="#a52a3f"/>
<circle cx="101.48" cy="453.20" r="2.5" fill="#a52a3f"/>
<circle cx="104.04" cy="453.20" r="2.5" fill="#a52a3f"/>
<circle cx="106.60" cy="453.20" r="2.5" fill="#a52a3f"/>
<circle cx="93.80" cy="455.40" r="2.5" fill="#a52a3f"/>
<circle cx="96.36" cy="455.40" r="2.5" fill="#a52a3f"/>
<circle cx="98.92" cy="455.40" r="2.5" fill="#a52a3f"/>
<circle cx="101.48" cy="455.40" r="2.5" fill="#a52a3f"/>
<circle cx="104.04" cy="455.40" r="2.5" fill="#a52a3f"/>
<circle cx="106.60" cy="455.40" r="2.5" fill="#a52a3f"/>
<path d="M125.00 408.51L131.00 408.51L128.00 403.29Z" fill="#415b84"/>
<path d="M126.00 437.61L132.00 437.61L129.00 432.39Z" fill="#415b84"/>
<path d="M123.00 441.01L129.00 441.01L126.00 435.79Z" fill="#415b84"/>
<path d="M121.00 449.11L127.00 449.11L124.00 443.89Z" fill="#415b84"/>
<path d="M125.00 448.11L131.00 448.11L128.00 442.89Z" fill="#415b84"/>
<path d="M129.00 449.11L135.00 449.11L132.00 443.89Z" fill="#415b84"/>
<path d="M118.50 453.11L124.50 453.11L121.50 447.89Z" fill="#415b84"/>
<path d="M124.00 452.11L130.00 452.11L127.00 446.89Z" fill="#415b84"/>
<path d="M131.50 453.11L137.50 453.11L134.50 447.89Z" fill="#415b84"/>
<path d="M119.00 455.61L125.00 455.61L122.00 450.39Z" fill="#415b84"/>
<path d="M123.00 455.61L129.00 455.61L126.00 450.39Z" fill="#415b84"/>
<path d="M127.00 455.61L133.00 455.61L130.00 450.39Z" fill="#415b84"/>
<path d="M131.00 455.61L137.00 455.61L134.00 450.39Z" fill="#415b84"/>
<path d="M151.50 441.71L157.50 441.71L154.50 436.49Z" fill="#a52a3f"/>
<path d="M152.50 450.61L158.50 450.61L155.50 445.39Z" fill="#a52a3f"/>
<path d="M145.50 454.11L151.50 454.11L148.50 448.89Z" fill="#a52a3f"/>
<path d="M149.50 454.11L155.50 454.11L152.50 448.89Z" fill="#a52a3f"/>
<path d="M153.50 454.11L159.50 454.11L156.50 448.89Z" fill="#a52a3f"/>
<path d="M158.00 454.11L164.00 454.11L161.00 448.89Z" fill="#a52a3f"/>
<line x1="54.50" y1="314.80" x2="54.50" y2="455.65" stroke="#111" stroke-width="1.4"/>
<line x1="50.30" y1="455.00" x2="54.50" y2="455.00" stroke="#111" stroke-width="1.2"/>
<text x="45.80" y="458.80" font-size="10.6" text-anchor="end" textLength="5.1" lengthAdjust="spacingAndGlyphs" stroke-width="0.1" fill="#1a1a1a">0</text>
<line x1="50.30" y1="427.80" x2="54.50" y2="427.80" stroke="#111" stroke-width="1.2"/>
<text x="45.80" y="431.60" font-size="10.6" text-anchor="end" textLength="5.1" lengthAdjust="spacingAndGlyphs" stroke-width="0.1" fill="#1a1a1a">2</text>
<line x1="50.30" y1="400.60" x2="54.50" y2="400.60" stroke="#111" stroke-width="1.2"/>
<text x="45.80" y="404.40" font-size="10.6" text-anchor="end" textLength="5.1" lengthAdjust="spacingAndGlyphs" stroke-width="0.1" fill="#1a1a1a">4</text>
<line x1="50.30" y1="373.40" x2="54.50" y2="373.40" stroke="#111" stroke-width="1.2"/>
<text x="45.80" y="377.20" font-size="10.6" text-anchor="end" textLength="5.1" lengthAdjust="spacingAndGlyphs" stroke-width="0.1" fill="#1a1a1a">6</text>
<line x1="50.30" y1="346.20" x2="54.50" y2="346.20" stroke="#111" stroke-width="1.2"/>
<text x="45.80" y="350.00" font-size="10.6" text-anchor="end" textLength="5.1" lengthAdjust="spacingAndGlyphs" stroke-width="0.1" fill="#1a1a1a">8</text>
<line x1="50.30" y1="319.00" x2="54.50" y2="319.00" stroke="#111" stroke-width="1.2"/>
<text x="45.80" y="322.80" font-size="10.6" text-anchor="end" textLength="10.2" lengthAdjust="spacingAndGlyphs" stroke-width="0.1" fill="#1a1a1a">10</text>
<line x1="53.80" y1="455.20" x2="175.60" y2="455.20" stroke="#111" stroke-width="1.4"/>
<line x1="72.40" y1="455.00" x2="72.40" y2="459.30" stroke="#111" stroke-width="1.2"/>
<text x="76.00" y="469.20" font-size="12" text-anchor="end" textLength="29.5" lengthAdjust="spacingAndGlyphs" transform="rotate(-45 76.00 469.20)" stroke-width="0.2" fill="#1a1a1a">CLL PB</text>
<line x1="100.00" y1="455.00" x2="100.00" y2="459.30" stroke="#111" stroke-width="1.2"/>
<text x="103.60" y="469.20" font-size="12" text-anchor="end" textLength="29.5" lengthAdjust="spacingAndGlyphs" transform="rotate(-45 103.60 469.20)" stroke-width="0.2" fill="#1a1a1a">CLL LN</text>
<line x1="127.80" y1="455.00" x2="127.80" y2="459.30" stroke="#111" stroke-width="1.2"/>
<text x="131.40" y="469.20" font-size="12" text-anchor="end" textLength="24" lengthAdjust="spacingAndGlyphs" transform="rotate(-45 131.40 469.20)" stroke-width="0.2" fill="#1a1a1a">HC PB</text>
<line x1="155.50" y1="455.00" x2="155.50" y2="459.30" stroke="#111" stroke-width="1.2"/>
<text x="159.10" y="469.20" font-size="12" text-anchor="end" textLength="24" lengthAdjust="spacingAndGlyphs" transform="rotate(-45 159.10 469.20)" stroke-width="0.2" fill="#1a1a1a">HC LN</text>
<line x1="71.80" y1="325.10" x2="102.00" y2="325.10" stroke="#333" stroke-width="1.3"/>
<path d="M84.85 318.90L84.85 322.10M83.46 319.70L86.24 321.30M86.24 319.70L83.46 321.30" stroke="#333" stroke-width="1.1"/>
<path d="M88.95 318.90L88.95 322.10M87.56 319.70L90.34 321.30M90.34 319.70L87.56 321.30" stroke="#333" stroke-width="1.1"/>
<text x="180.20" y="282.90" font-size="14.5" textLength="7.0" lengthAdjust="spacingAndGlyphs" stroke-width="0" fill="#1a1a1a">E</text>
<text x="256.90" y="298.20" font-size="12.5" textLength="55.9" lengthAdjust="spacingAndGlyphs" stroke-width="0.15" fill="#1a1a1a">V&#948;2-T cells</text>
<text x="196.30" y="386.40" font-size="12" text-anchor="middle" textLength="97" lengthAdjust="spacingAndGlyphs" transform="rotate(-90 196.30 386.40)" fill="#1a1a1a">% of lymphocytes</text>
<rect x="233.50" y="443.03" width="18.00" height="11.97" fill="#cdcbdc" stroke="#4a6892" stroke-width="1.1"/>
<rect x="261.50" y="452.96" width="18.00" height="2.04" fill="#e7cac0" stroke="#b03c50" stroke-width="1.1"/>
<rect x="289.30" y="443.78" width="18.00" height="11.22" fill="#fff" stroke="#4a6892" stroke-width="1.1"/>
<rect x="317.30" y="453.64" width="18.00" height="1.36" fill="#fff" stroke="#b03c50" stroke-width="1.1"/>
<circle cx="242.50" cy="346.50" r="2.5" fill="#415b84"/>
<circle cx="242.50" cy="374.70" r="2.5" fill="#415b84"/>
<circle cx="242.50" cy="390.80" r="2.5" fill="#415b84"/>
<circle cx="241.80" cy="432.50" r="2.6" fill="#415b84"/>
<circle cx="243.20" cy="434.00" r="2.6" fill="#415b84"/>
<circle cx="242.20" cy="436.50" r="2.6" fill="#415b84"/>
<circle cx="243.80" cy="438.50" r="2.6" fill="#415b84"/>
<circle cx="242.60" cy="441.00" r="2.6" fill="#415b84"/>
<circle cx="241.10" cy="443.00" r="2.5" fill="#415b84"/>
<circle cx="242.50" cy="443.00" r="2.5" fill="#415b84"/>
<circle cx="243.90" cy="443.00" r="2.5" fill="#415b84"/>
<circle cx="239.30" cy="445.20" r="2.5" fill="#415b84"/>
<circle cx="241.43" cy="445.20" r="2.5" fill="#415b84"/>
<circle cx="243.57" cy="445.20" r="2.5" fill="#415b84"/>
<circle cx="245.70" cy="445.20" r="2.5" fill="#415b84"/>
<circle cx="237.51" cy="447.40" r="2.5" fill="#415b84"/>
<circle cx="240.00" cy="447.40" r="2.5" fill="#415b84"/>
<circle cx="242.50" cy="447.40" r="2.5" fill="#415b84"/>
<circle cx="245.00" cy="447.40" r="2.5" fill="#415b84"/>
<circle cx="247.49" cy="447.40" r="2.5" fill="#415b84"/>
<circle cx="236.20" cy="449.60" r="2.5" fill="#415b84"/>
<circle cx="238.72" cy="449.60" r="2.5" fill="#415b84"/>
<circle cx="241.24" cy="449.60" r="2.5" fill="#415b84"/>
<circle cx="243.76" cy="449.60" r="2.5" fill="#415b84"/>
<circle cx="246.28" cy="449.60" r="2.5" fill="#415b84"/>
<circle cx="248.80" cy="449.60" r="2.5" fill="#415b84"/>
<circle cx="236.20" cy="451.80" r="2.5" fill="#415b84"/>
<circle cx="238.72" cy="451.80" r="2.5" fill="#415b84"/>
<circle cx="241.24" cy="451.80" r="2.5" fill="#415b84"/>
<circle cx="243.76" cy="451.80" r="2.5" fill="#415b84"/>
<circle cx="246.28" cy="451.80" r="2.5" fill="#415b84"/>
<circle cx="248.80" cy="451.80" r="2.5" fill="#415b84"/>
<circle cx="236.20" cy="454.00" r="2.5" fill="#415b84"/>
<circle cx="238.72" cy="454.00" r="2.5" fill="#415b84"/>
<circle cx="241.24" cy="454.00" r="2.5" fill="#415b84"/>
<circle cx="243.76" cy="454.00" r="2.5" fill="#415b84"/>
<circle cx="246.28" cy="454.00" r="2.5" fill="#415b84"/>
<circle cx="248.80" cy="454.00" r="2.5" fill="#415b84"/>
<circle cx="238.04" cy="456.20" r="2.5" fill="#415b84"/>
<circle cx="240.27" cy="456.20" r="2.5" fill="#415b84"/>
<circle cx="242.50" cy="456.20" r="2.5" fill="#415b84"/>
<circle cx="244.73" cy="456.20" r="2.5" fill="#415b84"/>
<circle cx="246.96" cy="456.20" r="2.5" fill="#415b84"/>
<circle cx="270.50" cy="428.80" r="2.5" fill="#a52a3f"/>
<circle cx="264.50" cy="450.00" r="2.5" fill="#a52a3f"/>
<circle cx="275.50" cy="450.00" r="2.5" fill="#a52a3f"/>
<circle cx="264.00" cy="452.50" r="2.5" fill="#a52a3f"/>
<circle cx="266.60" cy="452.50" r="2.5" fill="#a52a3f"/>
<circle cx="269.20" cy="452.50" r="2.5" fill="#a52a3f"/>
<circle cx="271.80" cy="452.50" r="2.5" fill="#a52a3f"/>
<circle cx="274.40" cy="452.50" r="2.5" fill="#a52a3f"/>
<circle cx="277.00" cy="452.50" r="2.5" fill="#a52a3f"/>
<circle cx="264.00" cy="454.70" r="2.5" fill="#a52a3f"/>
<circle cx="266.60" cy="454.70" r="2.5" fill="#a52a3f"/>
<circle cx="269.20" cy="454.70" r="2.5" fill="#a52a3f"/>
<circle cx="271.80" cy="454.70" r="2.5" fill="#a52a3f"/>
<circle cx="274.40" cy="454.70" r="2.5" fill="#a52a3f"/>
<circle cx="277.00" cy="454.70" r="2.5" fill="#a52a3f"/>
<path d="M295.50 370.91L301.50 370.91L298.50 365.69Z" fill="#415b84"/>
<path d="M294.30 448.61L300.30 448.61L297.30 443.39Z" fill="#415b84"/>
<path d="M292.00 450.61L298.00 450.61L295.00 445.39Z" fill="#415b84"/>
<path d="M297.00 451.11L303.00 451.11L300.00 445.89Z" fill="#415b84"/>
<path d="M290.00 453.11L296.00 453.11L293.00 447.89Z" fill="#415b84"/>
<path d="M295.00 453.61L301.00 453.61L298.00 448.39Z" fill="#415b84"/>
<path d="M300.00 453.11L306.00 453.11L303.00 447.89Z" fill="#415b84"/>
<path d="M288.50 455.61L294.50 455.61L291.50 450.39Z" fill="#415b84"/>
<path d="M293.00 455.61L299.00 455.61L296.00 450.39Z" fill="#415b84"/>
<path d="M297.50 455.61L303.50 455.61L300.50 450.39Z" fill="#415b84"/>
<path d="M302.00 455.61L308.00 455.61L305.00 450.39Z" fill="#415b84"/>
<path d="M316.00 455.11L322.00 455.11L319.00 449.89Z" fill="#a52a3f"/>
<path d="M320.00 454.11L326.00 454.11L323.00 448.89Z" fill="#a52a3f"/>
<path d="M324.00 454.61L330.00 454.61L327.00 449.39Z" fill="#a52a3f"/>
<path d="M328.00 454.11L334.00 454.11L331.00 448.89Z" fill="#a52a3f"/>
<path d="M331.00 455.11L337.00 455.11L334.00 449.89Z" fill="#a52a3f"/>
<line x1="224.50" y1="314.80" x2="224.50" y2="455.65" stroke="#111" stroke-width="1.4"/>
<line x1="220.30" y1="455.00" x2="224.50" y2="455.00" stroke="#111" stroke-width="1.2"/>
<text x="215.80" y="458.80" font-size="10.6" text-anchor="end" textLength="5.1" lengthAdjust="spacingAndGlyphs" stroke-width="0.1" fill="#1a1a1a">0</text>
<line x1="220.30" y1="421.00" x2="224.50" y2="421.00" stroke="#111" stroke-width="1.2"/>
<text x="215.80" y="424.80" font-size="10.6" text-anchor="end" textLength="5.1" lengthAdjust="spacingAndGlyphs" stroke-width="0.1" fill="#1a1a1a">5</text>
<line x1="220.30" y1="387.00" x2="224.50" y2="387.00" stroke="#111" stroke-width="1.2"/>
<text x="215.80" y="390.80" font-size="10.6" text-anchor="end" textLength="10.2" lengthAdjust="spacingAndGlyphs" stroke-width="0.1" fill="#1a1a1a">10</text>
<line x1="220.30" y1="353.00" x2="224.50" y2="353.00" stroke="#111" stroke-width="1.2"/>
<text x="215.80" y="356.80" font-size="10.6" text-anchor="end" textLength="10.2" lengthAdjust="spacingAndGlyphs" stroke-width="0.1" fill="#1a1a1a">15</text>
<line x1="220.30" y1="319.00" x2="224.50" y2="319.00" stroke="#111" stroke-width="1.2"/>
<text x="215.80" y="322.80" font-size="10.6" text-anchor="end" textLength="10.2" lengthAdjust="spacingAndGlyphs" stroke-width="0.1" fill="#1a1a1a">20</text>
<line x1="223.80" y1="455.20" x2="345.00" y2="455.20" stroke="#111" stroke-width="1.4"/>
<line x1="242.50" y1="455.00" x2="242.50" y2="459.30" stroke="#111" stroke-width="1.2"/>
<text x="246.10" y="469.20" font-size="12" text-anchor="end" textLength="29.5" lengthAdjust="spacingAndGlyphs" transform="rotate(-45 246.10 469.20)" stroke-width="0.2" fill="#1a1a1a">CLL PB</text>
<line x1="270.50" y1="455.00" x2="270.50" y2="459.30" stroke="#111" stroke-width="1.2"/>
<text x="274.10" y="469.20" font-size="12" text-anchor="end" textLength="29.5" lengthAdjust="spacingAndGlyphs" transform="rotate(-45 274.10 469.20)" stroke-width="0.2" fill="#1a1a1a">CLL LN</text>
<line x1="298.30" y1="455.00" x2="298.30" y2="459.30" stroke="#111" stroke-width="1.2"/>
<text x="301.90" y="469.20" font-size="12" text-anchor="end" textLength="24" lengthAdjust="spacingAndGlyphs" transform="rotate(-45 301.90 469.20)" stroke-width="0.2" fill="#1a1a1a">HC PB</text>
<line x1="326.30" y1="455.00" x2="326.30" y2="459.30" stroke="#111" stroke-width="1.2"/>
<text x="329.90" y="469.20" font-size="12" text-anchor="end" textLength="24" lengthAdjust="spacingAndGlyphs" transform="rotate(-45 329.90 469.20)" stroke-width="0.2" fill="#1a1a1a">HC LN</text>
<text x="349.70" y="282.90" font-size="14.5" textLength="7.0" lengthAdjust="spacingAndGlyphs" stroke-width="0" fill="#1a1a1a">F</text>
<text x="428.70" y="298.10" font-size="12.5" textLength="40.7" lengthAdjust="spacingAndGlyphs" stroke-width="0.15" fill="#1a1a1a">NK cells</text>
<text x="359.60" y="386.40" font-size="12" text-anchor="middle" textLength="97" lengthAdjust="spacingAndGlyphs" transform="rotate(-90 359.60 386.40)" fill="#1a1a1a">% of lymphocytes</text>
<rect x="397.90" y="450.65" width="18.00" height="4.35" fill="#cdcbdc" stroke="#4a6892" stroke-width="1.1"/>
<rect x="425.60" y="454.46" width="18.00" height="0.54" fill="#e7cac0" stroke="#b03c50" stroke-width="1.1"/>
<rect x="453.50" y="394.29" width="18.00" height="60.71" fill="#fff" stroke="#4a6892" stroke-width="1.1"/>
<rect x="480.80" y="448.47" width="18.00" height="6.53" fill="#fff" stroke="#b03c50" stroke-width="1.1"/>
<circle cx="406.80" cy="418.70" r="2.5" fill="#415b84"/>
<circle cx="406.80" cy="430.20" r="2.5" fill="#415b84"/>
<circle cx="406.80" cy="445.20" r="2.5" fill="#415b84"/>
<circle cx="400.30" cy="450.00" r="2.5" fill="#415b84"/>
<circle cx="402.90" cy="450.00" r="2.5" fill="#415b84"/>
<circle cx="405.50" cy="450.00" r="2.5" fill="#415b84"/>
<circle cx="408.10" cy="450.00" r="2.5" fill="#415b84"/>
<circle cx="410.70" cy="450.00" r="2.5" fill="#415b84"/>
<circle cx="413.30" cy="450.00" r="2.5" fill="#415b84"/>
<circle cx="400.30" cy="452.20" r="2.5" fill="#415b84"/>
<circle cx="402.90" cy="452.20" r="2.5" fill="#415b84"/>
<circle cx="405.50" cy="452.20" r="2.5" fill="#415b84"/>
<circle cx="408.10" cy="452.20" r="2.5" fill="#415b84"/>
<circle cx="410.70" cy="452.20" r="2.5" fill="#415b84"/>
<circle cx="413.30" cy="452.20" r="2.5" fill="#415b84"/>
<circle cx="400.30" cy="454.40" r="2.5" fill="#415b84"/>
<circle cx="402.90" cy="454.40" r="2.5" fill="#415b84"/>
<circle cx="405.50" cy="454.40" r="2.5" fill="#415b84"/>
<circle cx="408.10" cy="454.40" r="2.5" fill="#415b84"/>
<circle cx="410.70" cy="454.40" r="2.5" fill="#415b84"/>
<circle cx="413.30" cy="454.40" r="2.5" fill="#415b84"/>
<circle cx="427.90" cy="455.00" r="2.5" fill="#a52a3f"/>
<circle cx="430.50" cy="455.00" r="2.5" fill="#a52a3f"/>
<circle cx="433.10" cy="455.00" r="2.5" fill="#a52a3f"/>
<circle cx="435.70" cy="455.00" r="2.5" fill="#a52a3f"/>
<circle cx="438.30" cy="455.00" r="2.5" fill="#a52a3f"/>
<circle cx="440.90" cy="455.00" r="2.5" fill="#a52a3f"/>
<path d="M459.50 356.43L465.50 356.43L462.50 351.21Z" fill="#415b84"/>
<path d="M466.30 354.25L472.30 354.25L469.30 349.03Z" fill="#415b84"/>
<path d="M459.50 364.59L465.50 364.59L462.50 359.37Z" fill="#415b84"/>
<path d="M459.50 390.15L465.50 390.15L462.50 384.93Z" fill="#415b84"/>
<path d="M466.30 401.03L472.30 401.03L469.30 395.81Z" fill="#415b84"/>
<path d="M452.80 407.02L458.80 407.02L455.80 401.80Z" fill="#415b84"/>
<path d="M466.30 408.65L472.30 408.65L469.30 403.43Z" fill="#415b84"/>
<path d="M459.50 411.91L465.50 411.91L462.50 406.69Z" fill="#415b84"/>
<path d="M459.50 432.04L465.50 432.04L462.50 426.82Z" fill="#415b84"/>
<path d="M459.50 442.92L465.50 442.92L462.50 437.70Z" fill="#415b84"/>
<path d="M486.80 449.11L492.80 449.11L489.80 443.89Z" fill="#a52a3f"/>
<path d="M483.00 451.61L489.00 451.61L486.00 446.39Z" fill="#a52a3f"/>
<path d="M490.00 451.11L496.00 451.11L493.00 445.89Z" fill="#a52a3f"/>
<path d="M481.00 454.11L487.00 454.11L484.00 448.89Z" fill="#a52a3f"/>
<path d="M486.80 453.61L492.80 453.61L489.80 448.39Z" fill="#a52a3f"/>
<path d="M492.50 454.11L498.50 454.11L495.50 448.89Z" fill="#a52a3f"/>
<line x1="388.00" y1="314.80" x2="388.00" y2="455.65" stroke="#111" stroke-width="1.4"/>
<line x1="383.80" y1="455.00" x2="388.00" y2="455.00" stroke="#111" stroke-width="1.2"/>
<text x="379.30" y="458.80" font-size="10.6" text-anchor="end" textLength="5.1" lengthAdjust="spacingAndGlyphs" stroke-width="0.1" fill="#1a1a1a">0</text>
<line x1="383.80" y1="427.80" x2="388.00" y2="427.80" stroke="#111" stroke-width="1.2"/>
<text x="379.30" y="431.60" font-size="10.6" text-anchor="end" textLength="5.1" lengthAdjust="spacingAndGlyphs" stroke-width="0.1" fill="#1a1a1a">5</text>
<line x1="383.80" y1="400.60" x2="388.00" y2="400.60" stroke="#111" stroke-width="1.2"/>
<text x="379.30" y="404.40" font-size="10.6" text-anchor="end" textLength="10.2" lengthAdjust="spacingAndGlyphs" stroke-width="0.1" fill="#1a1a1a">10</text>
<line x1="383.80" y1="373.40" x2="388.00" y2="373.40" stroke="#111" stroke-width="1.2"/>
<text x="379.30" y="377.20" font-size="10.6" text-anchor="end" textLength="10.2" lengthAdjust="spacingAndGlyphs" stroke-width="0.1" fill="#1a1a1a">15</text>
<line x1="383.80" y1="346.20" x2="388.00" y2="346.20" stroke="#111" stroke-width="1.2"/>
<text x="379.30" y="350.00" font-size="10.6" text-anchor="end" textLength="10.2" lengthAdjust="spacingAndGlyphs" stroke-width="0.1" fill="#1a1a1a">20</text>
<line x1="383.80" y1="319.00" x2="388.00" y2="319.00" stroke="#111" stroke-width="1.2"/>
<text x="379.30" y="322.80" font-size="10.6" text-anchor="end" textLength="10.2" lengthAdjust="spacingAndGlyphs" stroke-width="0.1" fill="#1a1a1a">25</text>
<line x1="387.30" y1="455.20" x2="509.70" y2="455.20" stroke="#111" stroke-width="1.4"/>
<line x1="406.90" y1="455.00" x2="406.90" y2="459.30" stroke="#111" stroke-width="1.2"/>
<text x="410.50" y="469.20" font-size="12" text-anchor="end" textLength="29.5" lengthAdjust="spacingAndGlyphs" transform="rotate(-45 410.50 469.20)" stroke-width="0.2" fill="#1a1a1a">CLL PB</text>
<line x1="434.60" y1="455.00" x2="434.60" y2="459.30" stroke="#111" stroke-width="1.2"/>
<text x="438.20" y="469.20" font-size="12" text-anchor="end" textLength="29.5" lengthAdjust="spacingAndGlyphs" transform="rotate(-45 438.20 469.20)" stroke-width="0.2" fill="#1a1a1a">CLL LN</text>
<line x1="462.50" y1="455.00" x2="462.50" y2="459.30" stroke="#111" stroke-width="1.2"/>
<text x="466.10" y="469.20" font-size="12" text-anchor="end" textLength="24" lengthAdjust="spacingAndGlyphs" transform="rotate(-45 466.10 469.20)" stroke-width="0.2" fill="#1a1a1a">HC PB</text>
<line x1="489.80" y1="455.00" x2="489.80" y2="459.30" stroke="#111" stroke-width="1.2"/>
<text x="493.40" y="469.20" font-size="12" text-anchor="end" textLength="24" lengthAdjust="spacingAndGlyphs" transform="rotate(-45 493.40 469.20)" stroke-width="0.2" fill="#1a1a1a">HC LN</text>
<line x1="405.80" y1="316.20" x2="463.10" y2="316.20" stroke="#333" stroke-width="1.3"/>
<path d="M428.30 310.00L428.30 313.20M426.91 310.80L429.69 312.40M429.69 310.80L426.91 312.40" stroke="#333" stroke-width="1.1"/>
<path d="M432.40 310.00L432.40 313.20M431.01 310.80L433.79 312.40M433.79 310.80L431.01 312.40" stroke="#333" stroke-width="1.1"/>
<path d="M436.50 310.00L436.50 313.20M435.11 310.80L437.89 312.40M437.89 310.80L435.11 312.40" stroke="#333" stroke-width="1.1"/>
<path d="M440.60 310.00L440.60 313.20M439.21 310.80L441.99 312.40M441.99 310.80L439.21 312.40" stroke="#333" stroke-width="1.1"/>
<line x1="463.90" y1="324.90" x2="493.50" y2="324.90" stroke="#333" stroke-width="1.3"/>
<path d="M472.55 318.70L472.55 321.90M471.16 319.50L473.94 321.10M473.94 319.50L471.16 321.10" stroke="#333" stroke-width="1.1"/>
<path d="M476.65 318.70L476.65 321.90M475.26 319.50L478.04 321.10M478.04 319.50L475.26 321.10" stroke="#333" stroke-width="1.1"/>
<path d="M480.75 318.70L480.75 321.90M479.36 319.50L482.14 321.10M482.14 319.50L479.36 321.10" stroke="#333" stroke-width="1.1"/>
<path d="M484.85 318.70L484.85 321.90M483.46 319.50L486.24 321.10M486.24 319.50L483.46 321.10" stroke="#333" stroke-width="1.1"/>
<rect x="0" y="0" width="520" height="1" fill="#777"/>
<rect x="0" y="1" width="520" height="1" fill="#444"/>
<rect x="0" y="0" width="1" height="506" fill="#777"/>
<rect x="1" y="0" width="1" height="506" fill="#444"/>
<rect x="519" y="0" width="1" height="506" fill="#000"/>
<rect x="518" y="0" width="1" height="506" fill="#666"/>
<rect x="0" y="504" width="520" height="1" fill="#444"/>
<rect x="0" y="505" width="520" height="1" fill="#777"/>
</svg></body></html>
